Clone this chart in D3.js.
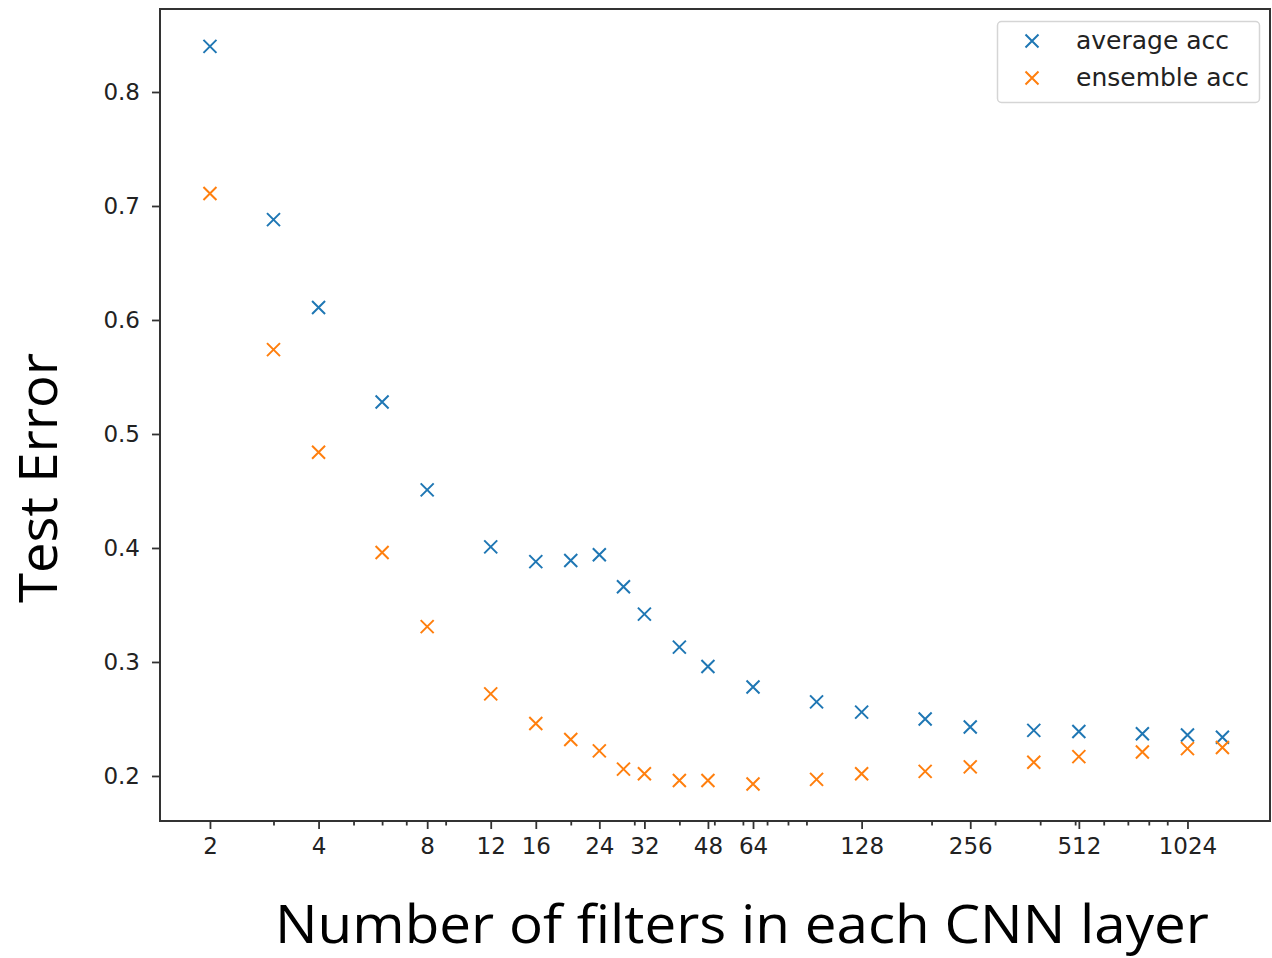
<!DOCTYPE html>
<html>
<head>
<meta charset="utf-8">
<script src="https://cdn.jsdelivr.net/npm/d3@7"></script>
<style>
  html, body { margin: 0; padding: 0; background: #fff; }
  svg { display: block; }
</style>
</head>
<body>
<svg id="chart" width="1272" height="958"></svg>
<script>
// Filter counts per CNN layer (x) and test error of each ensemble variant
const filters = [2, 3, 4, 6, 8, 12, 16, 20, 24, 28, 32, 40, 48, 64, 96, 128, 192, 256, 384, 512, 768, 1024, 1280];
const averageAcc = [0.840, 0.688, 0.611, 0.528, 0.451, 0.401, 0.388, 0.389, 0.394, 0.366, 0.342, 0.313, 0.296, 0.278, 0.265, 0.256, 0.250, 0.243, 0.240, 0.239, 0.237, 0.236, 0.234];
const ensembleAcc = [0.711, 0.574, 0.484, 0.396, 0.331, 0.272, 0.246, 0.232, 0.222, 0.206, 0.202, 0.196, 0.196, 0.193, 0.197, 0.202, 0.204, 0.208, 0.212, 0.217, 0.221, 0.224, 0.225];
const xTicks = [2, 4, 8, 12, 16, 24, 32, 48, 64, 128, 256, 512, 1024];
const xMinorTicks = [3, 5, 6, 7, 9, 20, 30, 40, 50, 60, 70, 80, 90, 200, 300, 400, 500, 600, 700, 800, 900];
const yTicks = [0.2, 0.3, 0.4, 0.5, 0.6, 0.7, 0.8];
const seriesNames = ["average acc", "ensemble acc"];
const seriesColors = ["#1f77b4", "#ff7f0e"];

const svg = d3.select("#chart");
const plot = { left: 160, right: 1270, top: 9, bottom: 821 };

const x = d3.scaleLog().base(2).domain([1.454, 1734]).range([plot.left, plot.right]);
const y = d3.scaleLinear().domain([0.1605, 0.8728]).range([plot.bottom, plot.top]);

const tickFont = "DejaVu Sans, sans-serif";
const axisColor = "#333";

// Frame
svg.append("rect")
  .attr("x", plot.left).attr("y", plot.top)
  .attr("width", plot.right - plot.left).attr("height", plot.bottom - plot.top)
  .attr("fill", "none").attr("stroke", axisColor).attr("stroke-width", 2);

// X axis (major + minor ticks)
const xAxis = d3.axisBottom(x).tickValues(xTicks).tickFormat(d3.format("d"))
  .tickSize(8).tickPadding(9);
const gx = svg.append("g").attr("transform", `translate(0,${plot.bottom})`).call(xAxis);
const xMinor = d3.axisBottom(x).tickValues(xMinorTicks).tickFormat("").tickSize(4.5);
const gxm = svg.append("g").attr("transform", `translate(0,${plot.bottom})`).call(xMinor);

// Y axis
const yAxis = d3.axisLeft(y).tickValues(yTicks).tickFormat(d3.format(".1f"))
  .tickSize(8).tickPadding(12);
const gy = svg.append("g").attr("transform", `translate(${plot.left},0)`).call(yAxis);

[gx, gxm, gy].forEach(g => {
  g.select(".domain").remove();
  g.selectAll(".tick line").attr("stroke", axisColor).attr("stroke-width", 1.8);
  g.selectAll(".tick text")
    .attr("fill", "#222")
    .style("font-family", tickFont)
    .style("font-size", "23px");
});

// Cross markers
function cross(sel, size) {
  sel.attr("d", `M${-size},${-size}L${size},${size}M${-size},${size}L${size},${-size}`);
}
const series = [averageAcc, ensembleAcc];
series.forEach((vals, i) => {
  svg.append("g")
    .selectAll("path")
    .data(filters.map((f, j) => [f, vals[j]]))
    .join("path")
    .attr("transform", d => `translate(${x(d[0])},${y(d[1])})`)
    .call(cross, 6.5)
    .attr("stroke", seriesColors[i])
    .attr("stroke-width", 2)
    .attr("fill", "none");
});

// Legend
const legend = svg.append("g");
legend.append("rect")
  .attr("x", 997.5).attr("y", 21.5).attr("width", 262).attr("height", 81)
  .attr("rx", 4).attr("fill", "#fff").attr("stroke", "#d5d5d5").attr("stroke-width", 1.5);
seriesNames.forEach((name, i) => {
  const cy = 41 + i * 37;
  legend.append("path")
    .attr("transform", `translate(1032,${cy})`)
    .call(cross, 6.5)
    .attr("stroke", seriesColors[i]).attr("stroke-width", 2).attr("fill", "none");
  legend.append("text")
    .attr("x", 1076).attr("y", cy + 8)
    .attr("fill", "#222")
    .style("font-family", tickFont)
    .style("font-size", "25px")
    .text(name);
});

// Axis titles
svg.append("text")
  .attr("x", 275).attr("y", 943)
  .attr("textLength", 934)
  .attr("lengthAdjust", "spacingAndGlyphs")
  .attr("fill", "#000")
  .style("font-family", "Open Sans, sans-serif")
  .style("font-size", "53px")
  .text("Number of filters in each CNN layer");

svg.append("text")
  .attr("transform", "translate(57,478) rotate(-90)")
  .attr("x", -125)
  .attr("textLength", 250)
  .attr("lengthAdjust", "spacingAndGlyphs")
  .attr("fill", "#000")
  .style("font-family", "Open Sans, sans-serif")
  .style("font-size", "53px")
  .text("Test Error");
</script>
</body>
</html>
